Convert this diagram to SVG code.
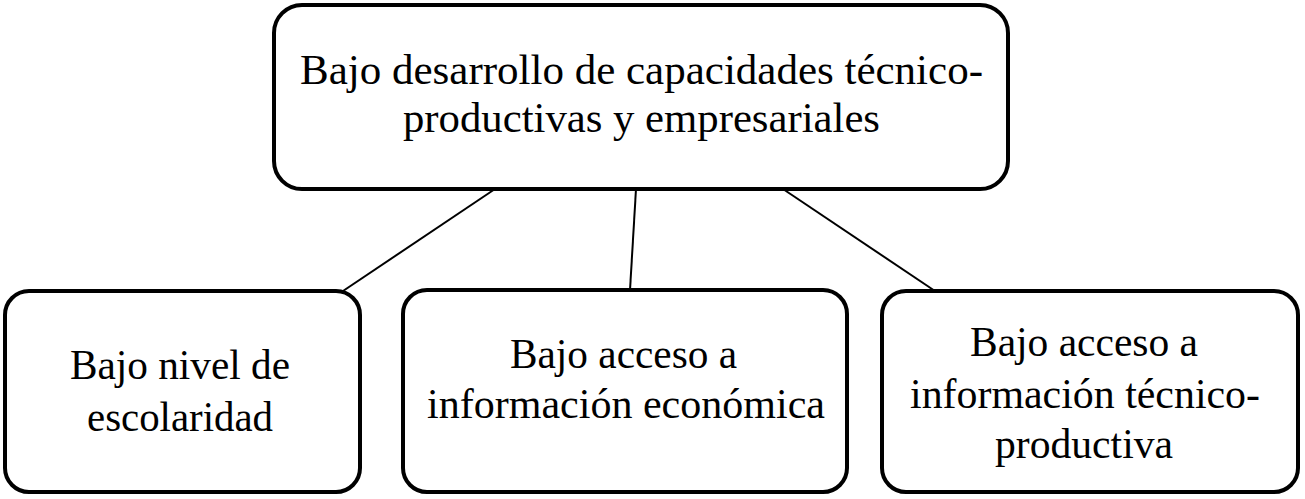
<svg xmlns="http://www.w3.org/2000/svg" width="1305" height="499" viewBox="0 0 1305 499">
<style>
.box{fill:#fff;stroke:#000;stroke-width:4}
.con{stroke:#000;stroke-width:2;fill:none}
text{font-family:"Liberation Serif","Times New Roman",serif;fill:#000}
.t{font-size:42px}
.b{font-size:43px}
</style>
<rect width="1305" height="499" fill="#fff"/>
<g id="connectors">
<line class="con" x1="495" y1="189" x2="343" y2="291"/>
<line class="con" x1="636" y1="189" x2="630" y2="290"/>
<line class="con" x1="783" y1="189" x2="935" y2="291"/>
</g>
<g id="top">
<rect class="box" x="274" y="5" width="734" height="184" rx="28"/>
<text class="t" x="300" y="84" textLength="683" lengthAdjust="spacingAndGlyphs">Bajo desarrollo de capacidades técnico-</text>
<text class="t" x="403" y="132" textLength="477" lengthAdjust="spacingAndGlyphs">productivas y empresariales</text>
</g>
<g id="n1">
<rect class="box" x="5" y="291" width="355" height="201" rx="24"/>
<text class="b" x="70" y="379" textLength="220" lengthAdjust="spacingAndGlyphs">Bajo nivel de</text>
<text class="b" x="87" y="431" textLength="186" lengthAdjust="spacingAndGlyphs">escolaridad</text>
</g>
<g id="n2">
<rect class="box" x="403" y="290" width="444" height="202" rx="24"/>
<text class="b" x="510" y="368" textLength="227" lengthAdjust="spacingAndGlyphs">Bajo acceso a</text>
<text class="b" x="427" y="418" textLength="398" lengthAdjust="spacingAndGlyphs">información económica</text>
</g>
<g id="n3">
<rect class="box" x="882" y="291" width="416" height="201" rx="24"/>
<text class="b" x="970" y="356" textLength="228" lengthAdjust="spacingAndGlyphs">Bajo acceso a</text>
<text class="b" x="910" y="408" textLength="350" lengthAdjust="spacingAndGlyphs">información técnico-</text>
<text class="b" x="995" y="458" textLength="178" lengthAdjust="spacingAndGlyphs">productiva</text>
</g>
</svg>
